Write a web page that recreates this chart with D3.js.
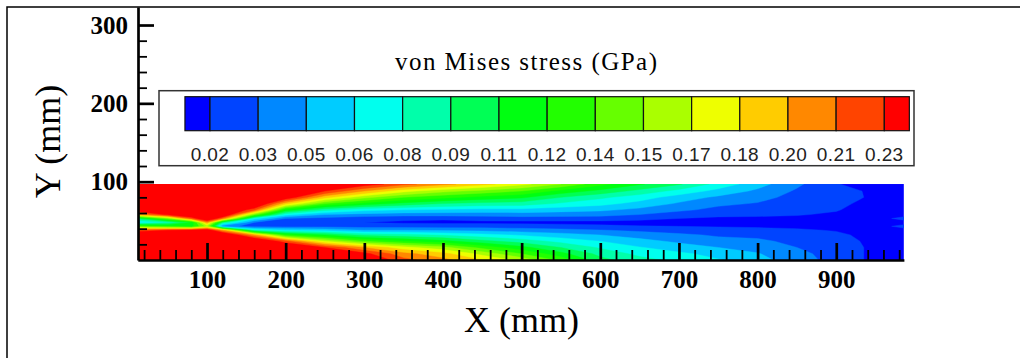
<!DOCTYPE html>
<html>
<head>
<meta charset="utf-8">
<script src="https://cdn.jsdelivr.net/npm/d3@7"></script>
<style>
  html, body { margin: 0; padding: 0; background: #fff; }
  svg { display: block; }
  text { font-family: "Liberation Serif", "Times New Roman", serif; fill: #000; }
  text.lab { font-family: "Liberation Sans", Arial, sans-serif; fill: #222; }
</style>
</head>
<body>
<svg id="chart" width="1020" height="358"></svg>
<script>
// sample grid of the plate, mm
var gridX = [14, 50, 80, 100, 120, 160, 200, 250, 300, 350, 400, 450, 500, 550, 600, 650, 700, 750, 800, 850, 900, 930, 960, 986];
var gridY = [0, 8, 16, 24, 32, 38, 43, 48, 53, 58, 64, 72, 80, 88, 97];

// von Mises stress (GPa), one column per gridX, bottom (Y=0) to top
var stress = [
  [0.26, 0.26, 0.26, 0.26, 0.26, 0.22, 0.14, 0.065, 0.10, 0.20, 0.25, 0.26, 0.26, 0.26, 0.26],
  [0.26, 0.26, 0.26, 0.26, 0.26, 0.23, 0.13, 0.08, 0.15, 0.235, 0.26, 0.26, 0.26, 0.26, 0.26],
  [0.26, 0.26, 0.26, 0.26, 0.26, 0.235, 0.12, 0.11, 0.215, 0.26, 0.26, 0.26, 0.26, 0.26, 0.26],
  [0.26, 0.26, 0.26, 0.26, 0.26, 0.245, 0.16, 0.20, 0.26, 0.26, 0.26, 0.26, 0.26, 0.26, 0.26],
  [0.26, 0.26, 0.26, 0.26, 0.26, 0.20, 0.04, 0.09, 0.21, 0.26, 0.26, 0.26, 0.26, 0.26, 0.26],
  [0.26, 0.26, 0.26, 0.26, 0.20, 0.08, 0.03, 0.035, 0.07, 0.15, 0.22, 0.26, 0.26, 0.26, 0.26],
  [0.26, 0.26, 0.26, 0.22, 0.13, 0.065, 0.03, 0.022, 0.035, 0.07, 0.12, 0.19, 0.245, 0.26, 0.26],
  [0.26, 0.26, 0.23, 0.17, 0.11, 0.06, 0.03, 0.022, 0.03, 0.05, 0.085, 0.14, 0.19, 0.23, 0.26],
  [0.25, 0.235, 0.20, 0.14, 0.09, 0.05, 0.028, 0.02, 0.025, 0.045, 0.07, 0.12, 0.16, 0.20, 0.24],
  [0.22, 0.205, 0.175, 0.125, 0.085, 0.05, 0.028, 0.018, 0.023, 0.042, 0.065, 0.105, 0.14, 0.175, 0.22],
  [0.205, 0.19, 0.16, 0.115, 0.078, 0.048, 0.028, 0.017, 0.022, 0.042, 0.062, 0.095, 0.13, 0.16, 0.205],
  [0.185, 0.165, 0.135, 0.10, 0.07, 0.046, 0.028, 0.017, 0.025, 0.042, 0.06, 0.09, 0.12, 0.15, 0.19],
  [0.165, 0.14, 0.115, 0.088, 0.063, 0.043, 0.027, 0.016, 0.028, 0.043, 0.06, 0.088, 0.113, 0.14, 0.175],
  [0.135, 0.115, 0.095, 0.075, 0.056, 0.04, 0.025, 0.016, 0.028, 0.042, 0.056, 0.078, 0.095, 0.12, 0.155],
  [0.10, 0.09, 0.078, 0.065, 0.05, 0.036, 0.023, 0.015, 0.028, 0.04, 0.053, 0.07, 0.083, 0.105, 0.13],
  [0.085, 0.076, 0.066, 0.055, 0.043, 0.032, 0.021, 0.014, 0.025, 0.035, 0.046, 0.06, 0.072, 0.09, 0.112],
  [0.076, 0.068, 0.057, 0.047, 0.038, 0.028, 0.02, 0.013, 0.02, 0.028, 0.038, 0.048, 0.058, 0.075, 0.097],
  [0.066, 0.06, 0.05, 0.04, 0.033, 0.026, 0.019, 0.012, 0.018, 0.023, 0.031, 0.038, 0.047, 0.06, 0.075],
  [0.056, 0.051, 0.044, 0.038, 0.031, 0.024, 0.018, 0.012, 0.018, 0.022, 0.028, 0.034, 0.04, 0.047, 0.056],
  [0.041, 0.039, 0.035, 0.031, 0.026, 0.022, 0.017, 0.012, 0.017, 0.021, 0.024, 0.027, 0.03, 0.033, 0.038],
  [0.03, 0.029, 0.028, 0.026, 0.023, 0.019, 0.015, 0.012, 0.015, 0.018, 0.021, 0.024, 0.026, 0.026, 0.021],
  [0.021, 0.021, 0.021, 0.02, 0.018, 0.016, 0.014, 0.012, 0.014, 0.015, 0.016, 0.018, 0.021, 0.0205, 0.015],
  [0.015, 0.015, 0.015, 0.015, 0.015, 0.015, 0.018, 0.015, 0.018, 0.015, 0.015, 0.015, 0.015, 0.015, 0.015],
  [0.014, 0.014, 0.014, 0.014, 0.014, 0.016, 0.023, 0.016, 0.023, 0.016, 0.014, 0.014, 0.014, 0.014, 0.014]
];

// contour levels and legend
var levels = [0.02, 0.035, 0.05, 0.065, 0.08, 0.095, 0.11, 0.125, 0.14, 0.155, 0.17, 0.185, 0.20, 0.215, 0.23];
var levelLabels = ["0.02", "0.03", "0.05", "0.06", "0.08", "0.09", "0.11", "0.12", "0.14", "0.15", "0.17", "0.18", "0.20", "0.21", "0.23"];
var levelColors = ["#0000ff", "#0044ff", "#0088ff", "#00ccff", "#00ffee", "#00ffaa", "#00ff55", "#00ff11",
                   "#22ff00", "#66ff00", "#aaff00", "#eeff00", "#ffcc00", "#ff8800", "#ff4400", "#ff0000"];

var xMajor = [100, 200, 300, 400, 500, 600, 700, 800, 900];
var yMajor = [100, 200, 300];

var svg = d3.select("#chart");
var x = d3.scaleLinear().domain([12, 986]).range([137.8, 903.9]);
var y = d3.scaleLinear().domain([0, 323]).range([260, 7]);

// frame (left and top edges only)
svg.append("path")
    .attr("d", "M7,358V7H1020")
    .attr("fill", "none")
    .attr("stroke", "#000")
    .attr("stroke-width", 1.5);

// contour field
var n = gridX.length, m = gridY.length;
var values = new Array(n * m);
for (var j = 0; j < m; j++) {
  for (var i = 0; i < n; i++) values[i + j * n] = stress[i][j];
}
var colX = d3.scaleLinear().domain(d3.range(n)).range(gridX).clamp(true);
var rowY = d3.scaleLinear().domain(d3.range(m)).range(gridY).clamp(true);
var toScreen = d3.geoTransform({
  point: function(gx, gy) { this.stream.point(x(colX(gx - 0.5)), y(rowY(gy - 0.5))); }
});
var path = d3.geoPath(toScreen);
var bands = d3.contours().size([n, m]).thresholds(levels)(values);

svg.append("clipPath").attr("id", "plate")
  .append("rect")
    .attr("x", x(gridX[0]))
    .attr("y", y(gridY[m - 1]))
    .attr("width", x(gridX[n - 1]) - x(gridX[0]))
    .attr("height", y(gridY[0]) - y(gridY[m - 1]));

var field = svg.append("g").attr("clip-path", "url(#plate)");
field.append("rect")
    .attr("x", x(gridX[0]))
    .attr("y", y(gridY[m - 1]))
    .attr("width", x(gridX[n - 1]) - x(gridX[0]))
    .attr("height", y(gridY[0]) - y(gridY[m - 1]))
    .attr("fill", levelColors[0]);
field.selectAll("path.band")
  .data(bands)
  .join("path")
    .attr("class", "band")
    .attr("d", path)
    .attr("fill", function(d, k) { return levelColors[k + 1]; })
    .attr("stroke", function(d, k) { return levelColors[k + 1]; })
    .attr("stroke-width", 0.4);

// y axis: ticks inside, labels outside
var yAxisG = svg.append("g").attr("transform", "translate(138,0)");
yAxisG.append("g")
    .call(d3.axisRight(y).tickValues(d3.range(20, 320, 20).filter(function(v) { return v % 100; }))
      .tickSize(9).tickFormat(""))
    .call(function(g) { g.select(".domain").remove(); g.selectAll("line").attr("stroke-width", 1.8); });
yAxisG.append("g")
    .call(d3.axisRight(y).tickValues(yMajor).tickSize(16).tickSizeOuter(0).tickFormat(""))
    .call(function(g) {
      g.select(".domain").attr("stroke-width", 2.7);
      g.selectAll("line").attr("stroke-width", 2.7);
    });
yAxisG.append("g")
    .call(d3.axisLeft(y).tickValues(yMajor).tickSize(0).tickPadding(10))
    .call(function(g) {
      g.select(".domain").remove();
      g.selectAll("text").attr("font-size", 25).attr("font-weight", "bold");
    });

// x axis
var xAxisG = svg.append("g").attr("transform", "translate(0,260)");
xAxisG.append("g")
    .call(d3.axisTop(x).tickValues(d3.range(20, 986, 20).filter(function(v) { return v % 100; }))
      .tickSize(10).tickFormat(""))
    .call(function(g) { g.select(".domain").remove(); g.selectAll("line").attr("stroke-width", 1.8); });
xAxisG.append("g")
    .call(d3.axisTop(x).tickValues(xMajor).tickSize(17).tickSizeOuter(0).tickFormat(""))
    .call(function(g) {
      g.select(".domain").attr("stroke-width", 2.7);
      g.selectAll("line").attr("stroke-width", 2.7);
    });
xAxisG.append("g")
    .call(d3.axisBottom(x).tickValues(xMajor).tickSize(0).tickPadding(10))
    .call(function(g) {
      g.select(".domain").remove();
      g.selectAll("text").attr("font-size", 25).attr("font-weight", "bold");
    });

// axis titles
svg.append("text")
    .attr("x", 521.5).attr("y", 332)
    .attr("text-anchor", "middle")
    .attr("font-size", 36)
    .text("X (mm)");
svg.append("text")
    .attr("transform", "translate(60,141.5) rotate(-90)")
    .attr("text-anchor", "middle")
    .attr("font-size", 36)
    .text("Y (mm)");

// legend
var lx = d3.scaleLinear().domain([0, levels.length - 1]).range([210, 884.3]);
var legend = svg.append("g");
legend.append("rect")
    .attr("x", 159).attr("y", 90.7)
    .attr("width", 755).attr("height", 75)
    .attr("fill", "#fff").attr("stroke", "#333").attr("stroke-width", 1.5);
legend.selectAll("rect.cell")
  .data(levelColors)
  .join("rect")
    .attr("class", "cell")
    .attr("x", function(d, k) { return k === 0 ? lx(-0.52) : lx(k - 1); })
    .attr("width", function(d, k) {
      var a = k === 0 ? lx(-0.52) : lx(k - 1);
      var b = k === levelColors.length - 1 ? lx(levels.length - 1 + 0.52) : lx(k);
      return b - a;
    })
    .attr("y", 96.7).attr("height", 34)
    .attr("fill", function(d) { return d; })
    .attr("stroke", "#111").attr("stroke-width", 1.2);
legend.selectAll("text.lab")
  .data(levelLabels)
  .join("text")
    .attr("class", "lab")
    .attr("x", function(d, k) { return lx(k); })
    .attr("y", 160.7)
    .attr("text-anchor", "middle")
    .attr("font-size", 19)
    .attr("letter-spacing", 0.4)
    .text(function(d) { return d; });
legend.append("text")
    .attr("x", 526).attr("y", 70)
    .attr("text-anchor", "middle")
    .attr("font-size", 25)
    .attr("textLength", 262)
    .attr("lengthAdjust", "spacing")
    .text("von Mises stress (GPa)");
</script>
</body>
</html>
